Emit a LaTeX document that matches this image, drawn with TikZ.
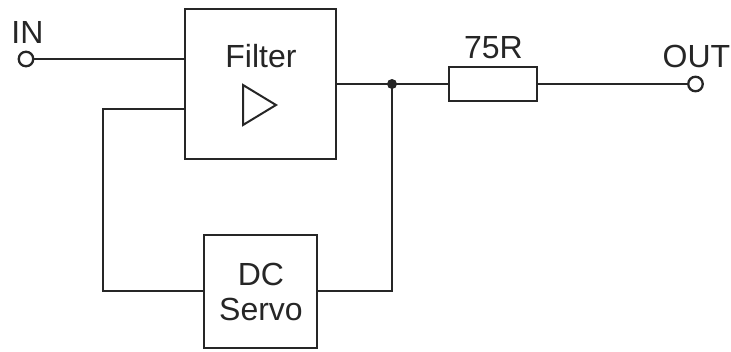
\documentclass[tikz,border=0pt]{standalone}
\usepackage{fontspec}
\setmainfont{Liberation Sans}
\begin{document}
\begin{tikzpicture}[x=1pt,y=-1pt,
  wire/.style={line width=2.3pt,color=black!85},
  box/.style={draw=black!85,line width=2.3pt,fill=white,inner sep=0pt},
  term/.style={circle,draw=black!85,line width=2.3pt,fill=white,minimum size=14.5pt,inner sep=0pt},
  lbl/.style={font=\fontsize{32}{35}\selectfont,text=black!85,inner sep=0pt,align=center}]
\useasboundingbox (0,0) rectangle (731,351);
\node[term] (in) at (26,59) {};
\coordinate (c1) at (185,59);
\node[term] (out) at (695.5,84) {};
\coordinate (j) at (392,84);
\coordinate (fb) at (185,109);
\coordinate (fbl) at (103,109);
\coordinate (sl) at (103,291);
\coordinate (sr) at (392,291);
\node[box,minimum width=151pt,minimum height=150pt] (filter) at (260.5,84) {};
\node[box,minimum width=113pt,minimum height=113pt] (servo) at (260.5,291.5) {};
\node[box,minimum width=88pt,minimum height=34pt] (r) at (493,84) {};
\draw[wire] (in) -- (c1);
\draw[wire] (filter.east |- j) -- (j) -- (r.west);
\draw[wire] (r.east) -- (out);
\draw[wire] (fb) -- (fbl) -- (sl) -- (servo.west |- sl);
\draw[wire] (servo.east |- sr) -- (sr) -- (j);
\fill[black!85] (j) circle (5pt);
\draw[line width=2pt,color=black!85] (243,85) -- (276,105) -- (243,125) -- cycle;
\node[lbl,anchor=base] (t1) at (261,67) {Filter};
\node[lbl] (t2) at (261,292) {DC\\Servo};
\node[lbl,anchor=base] (t3) at (493.5,58) {75R};
\node[lbl,anchor=base] (t4) at (27.5,43) {IN};
\node[lbl,anchor=base] (t5) at (696.5,67.5) {OUT};
\end{tikzpicture}
\end{document}
